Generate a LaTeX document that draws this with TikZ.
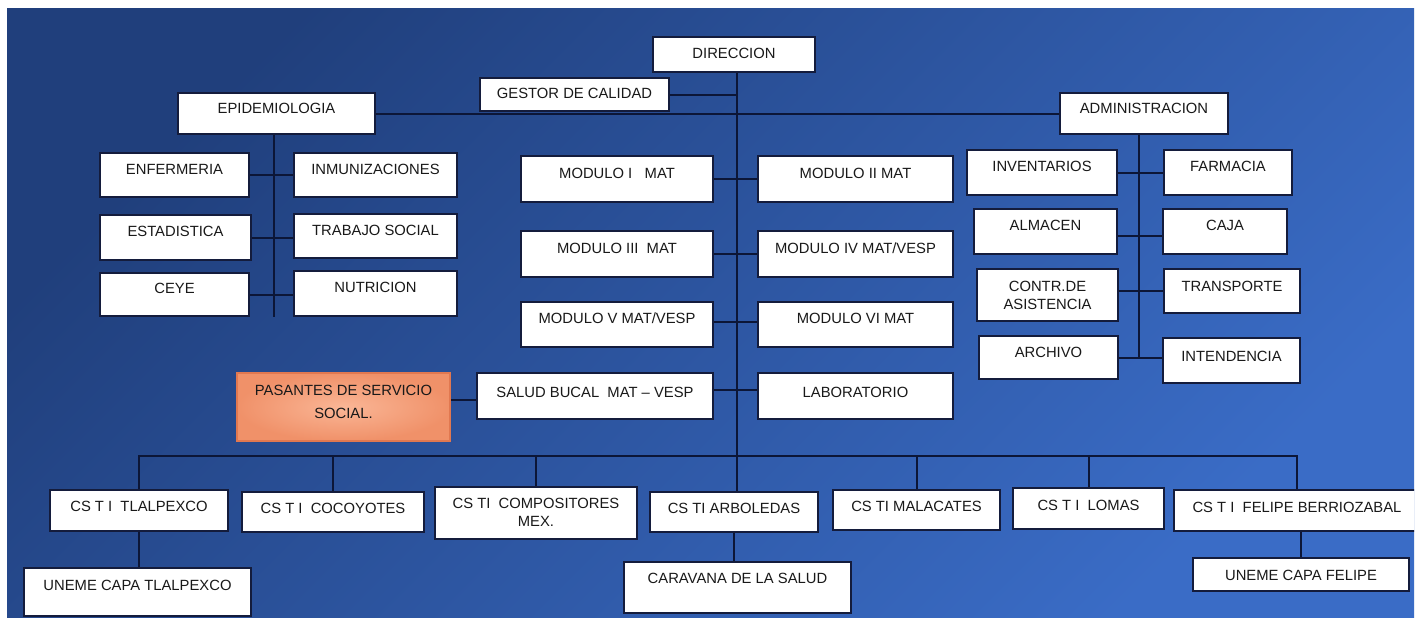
\documentclass[tikz,border=0pt]{standalone}
\usepackage{fontspec}
\setmainfont{Liberation Sans}
\usetikzlibrary{calc}
\definecolor{bgA}{RGB}{32,63,124}
\definecolor{bgB}{RGB}{58,108,198}
\definecolor{lin}{RGB}{12,22,55}
\definecolor{boxline}{RGB}{20,28,60}
\definecolor{txt}{RGB}{25,25,25}
\definecolor{pasIn}{RGB}{250,182,150}
\definecolor{pasOut}{RGB}{240,145,105}
\definecolor{pasD}{RGB}{225,120,80}
\newcommand\bx[8][box]{%
  \pgfmathsetmacro\bw{(#5-#3)*0.5}%
  \pgfmathsetmacro\bh{(#6-#4)*0.5}%
  \node[#1, minimum width=\bw pt, minimum height=\bh pt] (#2) at ({(#3+#5)/2},{(#4+#6)/2}) {};%
  \node[lbl] (#2-t) at ({(#3+#5)/2},#7) {#8};%
}
\begin{document}
\begin{tikzpicture}[x=0.5pt,y=-0.5pt,
  box/.style={rectangle, draw=boxline, fill=white, line width=0.8pt, inner sep=0pt},
  pasbox/.style={rectangle, draw=pasD, inner color=pasIn, outer color=pasOut, line width=1pt, inner sep=0pt},
  lbl/.style={font=\fontsize{7.4}{9}\selectfont, text=txt, inner sep=0pt, align=center},
  conn/.style={draw=lin, line width=1pt}]
\useasboundingbox (0,0) rectangle (1420,617);
\fill[white] (0,0) rectangle (1420,617);
\begin{scope}
\clip (7,8) rectangle (1414,617);
\shade[top color=bgA, bottom color=bgB, shading angle=45] (7,8) rectangle (1414,617);
% top
\bx{dir}{653}{37}{815}{72}{53}{DIRECCION}
\bx{ges}{480}{78}{669}{111}{93}{GESTOR DE CALIDAD}
\bx{epi}{178}{93}{375}{134}{108}{EPIDEMIOLOGIA}
\bx{adm}{1060}{93}{1228}{134}{108}{ADMINISTRACION}
% epidemiologia
\bx{enf}{100}{153}{249}{197}{169}{ENFERMERIA}
\bx{inm}{294}{153}{457}{197}{169}{INMUNIZACIONES}
\bx{est}{100}{215}{251}{260}{231}{ESTADISTICA}
\bx{tra}{294}{214}{457}{258}{230}{TRABAJO SOCIAL}
\bx{cey}{100}{273}{249}{316}{288}{CEYE}
\bx{nut}{294}{271}{457}{316}{287}{NUTRICION}
% modulos
\bx{m1}{521}{156}{713}{202}{173}{MODULO I~~ MAT}
\bx{m2}{758}{156}{953}{202}{173}{MODULO II MAT}
\bx{m3}{521}{231}{713}{277}{248}{MODULO III~ MAT}
\bx{m4}{758}{231}{953}{277}{248}{MODULO IV MAT/VESP}
\bx{m5}{521}{302}{713}{347}{318}{MODULO V MAT/VESP}
\bx{m6}{758}{302}{953}{347}{318}{MODULO VI MAT}
% administracion
\bx{inv}{967}{150}{1117}{195}{166}{INVENTARIOS}
\bx{far}{1164}{150}{1292}{195}{166}{FARMACIA}
\bx{alm}{974}{209}{1117}{254}{225}{ALMACEN}
\bx{caj}{1163}{209}{1287}{254}{225}{CAJA}
\bx{con}{977}{269}{1118}{321}{295}{CONTR.DE\\ASISTENCIA}
\bx{trn}{1164}{269}{1300}{313}{286}{TRANSPORTE}
\bx{arc}{979}{336}{1118}{379}{352}{ARCHIVO}
\bx{int}{1163}{338}{1300}{383}{356}{INTENDENCIA}
% salud bucal row
\bx[pasbox]{pas}{237}{373}{450}{441}{401.5}{PASANTES DE SERVICIO\\[2.5pt]SOCIAL.}
\bx{sal}{477}{373}{713}{419}{392}{SALUD BUCAL~ MAT -- VESP}
\bx{lab}{758}{373}{953}{419}{392}{LABORATORIO}
% centros
\bx{tla}{50}{490}{228}{531}{506}{CS T I~ TLALPEXCO}
\bx{coc}{242}{492}{424}{532}{508}{CS T I~ COCOYOTES}
\bx{com}{435}{487}{637}{539}{512}{CS TI~ COMPOSITORES\\MEX.}
\bx{arb}{650}{492}{818}{532}{508}{CS TI ARBOLEDAS}
\bx{mal}{833}{490}{1000}{530}{506}{CS TI MALACATES}
\bx{lom}{1013}{488}{1164}{529}{505}{CS T I~ LOMAS}
\bx{fel}{1174}{490}{1420}{531}{507}{CS T I~ FELIPE BERRIOZABAL}
\bx{un1}{24}{568}{251}{616}{585}{UNEME CAPA TLALPEXCO}
\bx{car}{624}{562}{851}{613}{578}{CARAVANA DE LA SALUD}
\bx{unf}{1193}{558}{1409}{591}{575}{UNEME CAPA FELIPE}
% connectors
\coordinate (sp) at (737,0);
\coordinate (ex) at (274,0);
\coordinate (ax) at (1139,0);
\coordinate (bus) at (0,456);
\draw[conn] (dir.south -| sp) -- (arb.north -| sp);
\draw[conn] (ges.east) -- (ges.east -| sp);
\draw[conn] (epi.east) -- (adm.west);
\draw[conn] (epi.south -| ex) -- (cey.south -| ex);
\draw[conn] (enf.east) -- (inm.west);
\draw[conn] (est.east) -- (est.east -| tra.west);
\draw[conn] (cey.east) -- (cey.east -| nut.west);
\draw[conn] (adm.south -| ax) -- (arc.east -| ax);
\draw[conn] (inv.east) -- (inv.east -| far.west);
\draw[conn] ($(alm.east)+(0,4)$) -- ($(alm.east -| caj.west)+(0,4)$);
\draw[conn] (trn.west -| con.east) -- (trn.west);
\draw[conn] (arc.east) -- (arc.east -| int.west);
\draw[conn] (m1.east) -- (m2.west);
\draw[conn] (m3.east) -- (m4.west);
\draw[conn] ($(m5.east)+(0,-3)$) -- ($(m6.west)+(0,-3)$);
\draw[conn] ($(sal.east)+(0,-6)$) -- ($(lab.west)+(0,-6)$);
\draw[conn] ($(pas.east)+(0,-7)$) -- ($(pas.east -| sal.west)+(0,-7)$);
\draw[conn] (tla.north) -- (tla.north |- bus) -- (fel.north |- bus) -- (fel.north);
\draw[conn] (coc.north |- bus) -- (coc.north);
\draw[conn] (com.north |- bus) -- (com.north);
\draw[conn] (mal.north |- bus) -- (mal.north);
\draw[conn] (lom.north |- bus) -- (lom.north);
\draw[conn] (tla.south) -- (tla.south |- un1.north);
\draw[conn] (arb.south) -- (arb.south |- car.north);
\draw[conn] (unf.north |- fel.south) -- (unf.north);
\end{scope}
\end{tikzpicture}
\end{document}
